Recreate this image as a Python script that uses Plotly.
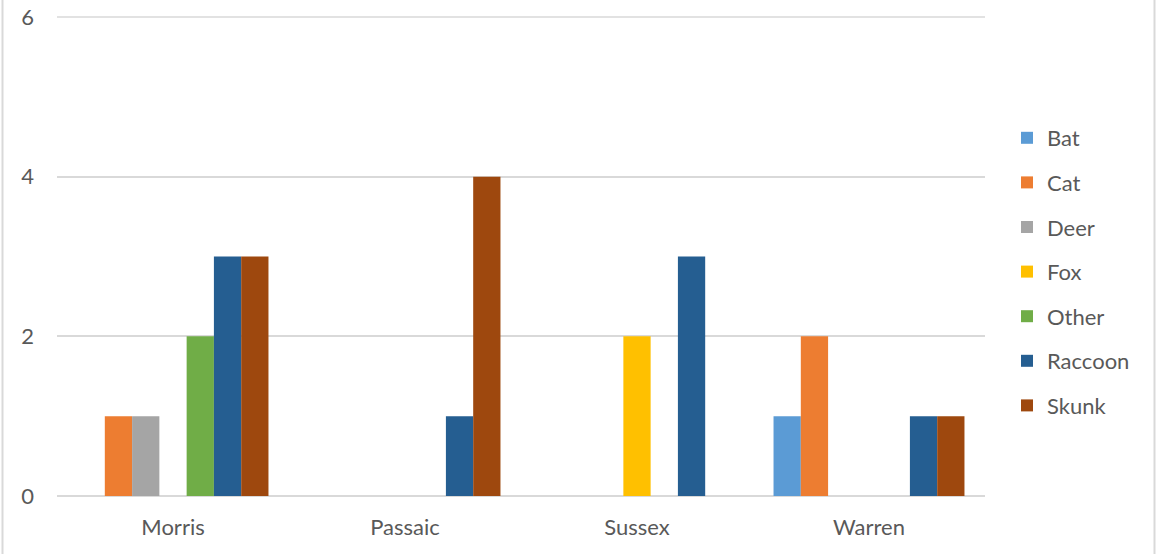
import plotly.graph_objects as go

categories = ["Morris", "Passaic", "Sussex", "Warren"]
series_names = ["Bat", "Cat", "Deer", "Fox", "Other", "Raccoon", "Skunk"]
bat = [None, None, None, 1]
cat = [1, None, None, 2]
deer = [1, None, None, None]
fox = [None, None, 2, None]
other = [2, None, None, None]
raccoon = [3, 1, 3, 1]
skunk = [3, 4, None, 1]
colors = ["#5B9BD5", "#ED7D31", "#A5A5A5", "#FFC000", "#70AD47", "#255E91", "#9E480E"]
y_ticks = [0, 2, 4, 6]

series_values = [bat, cat, deer, fox, other, raccoon, skunk]

W, H = 1156, 554
L, T = 57, 17
R = W - 985
B = H - 496
pw, ph = W - L - R, H - T - B


def px_x(sx):
    return (sx - L) / pw


def px_y(sy):
    return 1 - (sy - T) / ph


fig = go.Figure()
for i, (name, vals) in enumerate(zip(series_names, series_values)):
    fig.add_trace(go.Bar(
        x=categories, y=vals, name=name,
        marker=dict(color=colors[i], line=dict(width=0)),
        legendgroup=name,
    ))

font_family = "Lato, 'Liberation Sans', sans-serif"
grid_color = "#D9D9D9"
fig.update_layout(
    width=W, height=H,
    margin=dict(l=L, r=R, t=T, b=B, autoexpand=False),
    paper_bgcolor="white", plot_bgcolor="white",
    barmode="group", bargap=0.177, bargroupgap=0,
    font=dict(family=font_family, size=22, color="#595959"),
    showlegend=True,
    legend=dict(
        x=px_x(1007), y=px_y(117), xanchor="left", yanchor="top",
        tracegroupgap=13, font=dict(size=22, color="#595959"),
        bgcolor="rgba(0,0,0,0)", itemwidth=30,
    ),
    xaxis=dict(
        showgrid=False, showline=False, ticks="", zeroline=False,
        tickfont=dict(size=22, color="#595959"), ticklabelstandoff=16,
    ),
    yaxis=dict(
        range=[0, 6], tickvals=y_ticks, showgrid=True, gridcolor=grid_color,
        gridwidth=1.5, zeroline=True, zerolinecolor=grid_color, zerolinewidth=1.5,
        showline=False, ticks="", tickfont=dict(size=22, color="#595959"),
        ticklabelstandoff=22, ticklabeloverflow="allow",
    ),
    shapes=[
        # top gridline (plotly drops gridlines lying exactly on the range edge)
        dict(type="line", xref="paper", yref="paper", layer="below",
             x0=0, x1=1, y0=1, y1=1,
             line=dict(color=grid_color, width=1.5)),
        dict(type="line", xref="paper", yref="paper",
             x0=px_x(2.5), x1=px_x(2.5), y0=px_y(560), y1=px_y(-5),
             line=dict(color=grid_color, width=2)),
        dict(type="line", xref="paper", yref="paper",
             x0=px_x(1154.5), x1=px_x(1154.5), y0=px_y(560), y1=px_y(-5),
             line=dict(color=grid_color, width=2)),
    ],
)

fig.write_html(
    "out.html",
    config={"displayModeBar": False},
    post_script="document.body.style.margin='0';document.body.style.overflow='hidden';",
)
